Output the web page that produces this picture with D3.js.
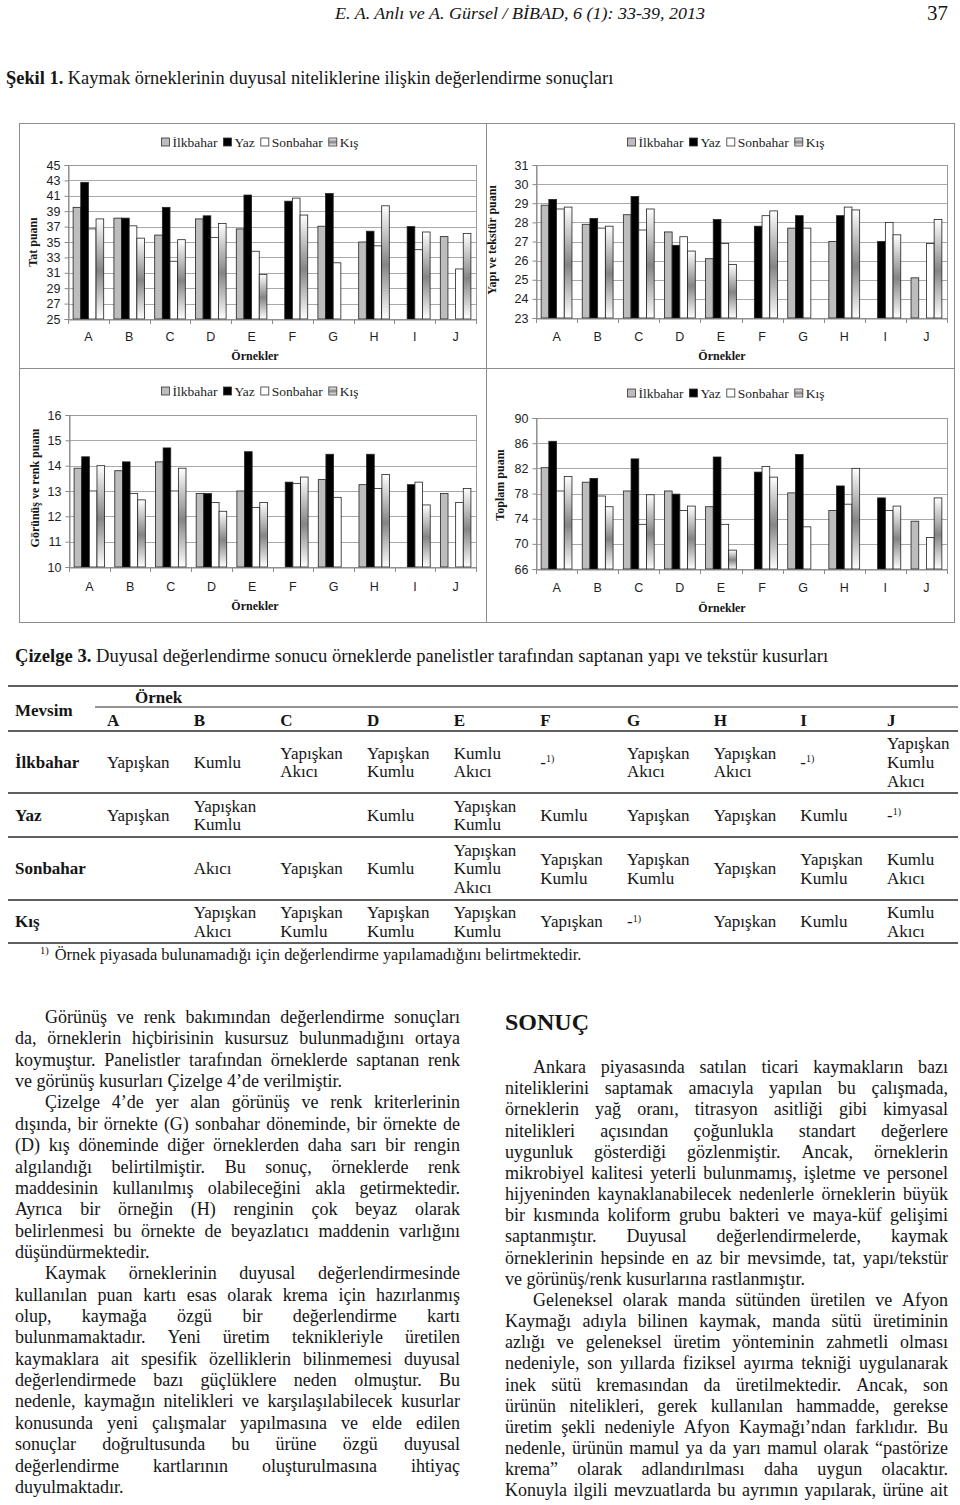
<!DOCTYPE html>
<html lang="tr">
<head>
<meta charset="utf-8">
<script src="https://cdn.jsdelivr.net/npm/d3@7"></script>
<style>
  body { margin: 0; background: #fff; }
  svg { display: block; }
</style>
</head>
<body>
<div id="page"></div>
<script>
// ---- data ----
var samples = ["A", "B", "C", "D", "E", "F", "G", "H", "I", "J"];
var seasons = ["İlkbahar", "Yaz", "Sonbahar", "Kış"];

// one row per sample: [İlkbahar, Yaz, Sonbahar, Kış], null = sample not found
var tatPuani = [
  [39.5, 42.75, 36.7, 38.0],
  [38.1, 38.1, 37.1, 35.5],
  [35.9, 39.5, 32.5, 35.3],
  [38.0, 38.4, 35.6, 37.4],
  [36.7, 41.1, 33.8, 30.8],
  [null, 40.3, 40.7, 38.5],
  [37.05, 41.3, 32.3, null],
  [35.0, 36.4, 34.5, 39.7],
  [null, 37.0, 34.0, 36.3],
  [35.7, null, 31.5, 36.1]
];
var yapiPuani = [
  [28.9, 29.2, 28.7, 28.8],
  [27.9, 28.2, 27.7, 27.8],
  [28.4, 29.35, 27.6, 28.7],
  [27.5, 26.8, 27.25, 26.5],
  [26.1, 28.15, 26.9, 25.8],
  [null, 27.8, 28.35, 28.6],
  [27.7, 28.35, 27.7, null],
  [27.0, 28.35, 28.8, 28.65],
  [null, 27.0, 28.0, 27.35],
  [25.1, null, 26.9, 28.15]
];
var gorunusPuani = [
  [13.9, 14.35, 13.0, 14.0],
  [13.8, 14.15, 12.9, 12.65],
  [14.15, 14.7, 13.0, 13.9],
  [12.9, 12.9, 12.55, 12.2],
  [13.0, 14.55, 12.35, 12.55],
  [null, 13.35, 13.3, 13.55],
  [13.45, 14.45, 12.75, null],
  [13.25, 14.45, 13.1, 13.65],
  [null, 13.25, 13.35, 12.45],
  [12.9, null, 12.55, 13.1]
];
var toplamPuan = [
  [82.1, 86.3, 78.4, 80.7],
  [79.8, 80.4, 77.6, 75.9],
  [78.4, 83.5, 73.1, 77.8],
  [78.4, 77.9, 75.3, 76.0],
  [75.9, 83.8, 73.1, 69.0],
  [null, 81.4, 82.3, 80.6],
  [78.1, 84.2, 72.7, null],
  [75.3, 79.2, 76.3, 82.0],
  [null, 77.3, 75.3, 76.0],
  [73.6, null, 71.0, 77.3]
];

var tatTicks = [25, 27, 29, 31, 33, 35, 37, 39, 41, 43, 45];
var yapiTicks = [23, 24, 25, 26, 27, 28, 29, 30, 31];
var gorunusTicks = [10, 11, 12, 13, 14, 15, 16];
var toplamTicks = [66, 70, 74, 78, 82, 86, 90];

// Çizelge 3 ("-" = örnek bulunamadı)
var tableSeasons = ["İlkbahar", "Yaz", "Sonbahar", "Kış"];
var kusurIlkbahar = ["Yapışkan", "Kumlu", "Yapışkan\nAkıcı", "Yapışkan\nKumlu", "Kumlu\nAkıcı", "-", "Yapışkan\nAkıcı", "Yapışkan\nAkıcı", "-", "Yapışkan\nKumlu\nAkıcı"];
var kusurYaz = ["Yapışkan", "Yapışkan\nKumlu", "", "Kumlu", "Yapışkan\nKumlu", "Kumlu", "Yapışkan", "Yapışkan", "Kumlu", "-"];
var kusurSonbahar = ["", "Akıcı", "Yapışkan", "Kumlu", "Yapışkan\nKumlu\nAkıcı", "Yapışkan\nKumlu", "Yapışkan\nKumlu", "Yapışkan", "Yapışkan\nKumlu", "Kumlu\nAkıcı"];
var kusurKis = ["", "Yapışkan\nAkıcı", "Yapışkan\nKumlu", "Yapışkan\nKumlu", "Yapışkan\nKumlu", "Yapışkan", "-", "Yapışkan", "Kumlu", "Kumlu\nAkıcı"];

var leftParagraphs = [
  ["Görünüş ve renk bakımından değerlendirme sonuçları",
   "da, örneklerin hiçbirisinin kusursuz bulunmadığını ortaya",
   "koymuştur. Panelistler tarafından örneklerde saptanan renk",
   "ve görünüş kusurları Çizelge 4’de verilmiştir."],
  ["Çizelge 4’de yer alan görünüş ve renk kriterlerinin",
   "dışında, bir örnekte (G) sonbahar döneminde, bir örnekte de",
   "(D) kış döneminde diğer örneklerden daha sarı bir rengin",
   "algılandığı belirtilmiştir. Bu sonuç, örneklerde renk",
   "maddesinin kullanılmış olabileceğini akla getirmektedir.",
   "Ayrıca bir örneğin (H) renginin çok beyaz olarak",
   "belirlenmesi bu örnekte de beyazlatıcı maddenin varlığını",
   "düşündürmektedir."],
  ["Kaymak örneklerinin duyusal değerlendirmesinde",
   "kullanılan puan kartı esas olarak krema için hazırlanmış",
   "olup, kaymağa özgü bir değerlendirme kartı",
   "bulunmamaktadır. Yeni üretim teknikleriyle üretilen",
   "kaymaklara ait spesifik özelliklerin bilinmemesi duyusal",
   "değerlendirmede bazı güçlüklere neden olmuştur. Bu",
   "nedenle, kaymağın nitelikleri ve karşılaşılabilecek kusurlar",
   "konusunda yeni çalışmalar yapılmasına ve elde edilen",
   "sonuçlar doğrultusunda bu ürüne özgü duyusal",
   "değerlendirme kartlarının oluşturulmasına ihtiyaç",
   "duyulmaktadır."]
];
var rightParagraphs = [
  ["Ankara piyasasında satılan ticari kaymakların bazı",
   "niteliklerini saptamak amacıyla yapılan bu çalışmada,",
   "örneklerin yağ oranı, titrasyon asitliği gibi kimyasal",
   "nitelikleri açısından çoğunlukla standart değerlere",
   "uygunluk gösterdiği gözlenmiştir. Ancak, örneklerin",
   "mikrobiyel kalitesi yeterli bulunmamış, işletme ve personel",
   "hijyeninden kaynaklanabilecek nedenlerle örneklerin büyük",
   "bir kısmında koliform grubu bakteri ve maya-küf gelişimi",
   "saptanmıştır. Duyusal değerlendirmelerde, kaymak",
   "örneklerinin hepsinde en az bir mevsimde, tat, yapı/tekstür",
   "ve görünüş/renk kusurlarına rastlanmıştır."],
  ["Geleneksel olarak manda sütünden üretilen ve Afyon",
   "Kaymağı adıyla bilinen kaymak, manda sütü üretiminin",
   "azlığı ve geleneksel üretim yönteminin zahmetli olması",
   "nedeniyle, son yıllarda fiziksel ayırma tekniği uygulanarak",
   "inek sütü kremasından da üretilmektedir. Ancak, son",
   "ürünün nitelikleri, gerek kullanılan hammadde, gerekse",
   "üretim şekli nedeniyle Afyon Kaymağı’ndan farklıdır. Bu",
   "nedenle, ürünün mamul ya da yarı mamul olarak “pastörize",
   "krema” olarak adlandırılması daha uygun olacaktır.",
   "Konuyla ilgili mevzuatlarda bu ayrımın yapılarak, ürüne ait"]
];

// ---- page ----
var serif = "'Liberation Serif', 'Times New Roman', serif";
var sans = "'Liberation Sans', Arial, sans-serif";

var svg = d3.select("#page").append("svg")
    .attr("width", 960)
    .attr("height", 1505)
    .style("font-family", serif)
    .attr("fill", "#151515");

var grad = svg.append("defs").append("linearGradient")
    .attr("id", "kisGrad")
    .attr("x1", 0).attr("y1", 0).attr("x2", 0).attr("y2", 1);
grad.append("stop").attr("offset", "0%").attr("stop-color", "#ffffff");
grad.append("stop").attr("offset", "52%").attr("stop-color", "#858585");
grad.append("stop").attr("offset", "100%").attr("stop-color", "#ffffff");

var seasonFill = d3.scaleOrdinal()
    .domain(seasons)
    .range(["#bdbdbd", "#000000", "#ffffff", "url(#kisGrad)"]);

// running header
svg.append("text")
    .attr("x", 335).attr("y", 19)
    .style("font-style", "italic").style("font-size", "17px")
    .attr("textLength", 370).attr("lengthAdjust", "spacingAndGlyphs")
    .text("E. A. Anlı ve A. Gürsel  / BİBAD, 6 (1): 33-39, 2013");
svg.append("text")
    .attr("x", 927).attr("y", 20)
    .style("font-size", "21px")
    .text("37");

// figure caption
var cap = svg.append("text").attr("x", 6).attr("y", 84).style("font-size", "18.4px");
cap.append("tspan").style("font-weight", "bold").text("Şekil 1.");
cap.append("tspan").text(" Kaymak örneklerinin duyusal niteliklerine ilişkin değerlendirme sonuçları");

// figure frame
var frame = svg.append("g").attr("stroke", "#8c8c8c").attr("fill", "none");
frame.append("rect").attr("x", 19.5).attr("y", 123.5).attr("width", 935).attr("height", 499);
frame.append("line").attr("x1", 486.5).attr("x2", 486.5).attr("y1", 123.5).attr("y2", 622.5);
frame.append("line").attr("x1", 19.5).attr("x2", 954.5).attr("y1", 368.5).attr("y2", 368.5);

function drawChart(cfg) {
    var g = svg.append("g");

    var x = d3.scaleBand().domain(samples).range([cfg.x0, cfg.x1])
        .paddingInner(0.25).paddingOuter(0.125);
    var xs = d3.scaleBand().domain(seasons).range([0, x.bandwidth()]);
    var y = d3.scaleLinear().domain(d3.extent(cfg.ticks)).range([cfg.yBot, cfg.yTop]);

    // gridlines
    g.append("g").selectAll("line")
        .data(cfg.ticks)
        .join("line")
        .attr("x1", cfg.x0).attr("x2", cfg.x1)
        .attr("y1", function (d) { return Math.round(y(d)) + 0.5; })
        .attr("y2", function (d) { return Math.round(y(d)) + 0.5; })
        .attr("stroke", "#a9a9a9");

    g.append("rect")
        .attr("x", cfg.x0 + 0.5).attr("y", Math.round(cfg.yTop) + 0.5)
        .attr("width", cfg.x1 - cfg.x0).attr("height", Math.round(cfg.yBot) - Math.round(cfg.yTop))
        .attr("fill", "none").attr("stroke", "#9a9a9a");

    // bars
    var bars = [];
    cfg.values.forEach(function (row, i) {
        row.forEach(function (v, j) {
            if (v !== null) bars.push({ sample: samples[i], season: seasons[j], value: v });
        });
    });
    g.append("g").selectAll("rect")
        .data(bars)
        .join("rect")
        .attr("x", function (d) { return x(d.sample) + xs(d.season); })
        .attr("width", xs.bandwidth())
        .attr("y", function (d) { return y(d.value); })
        .attr("height", function (d) { return y(y.domain()[0]) - y(d.value); })
        .attr("fill", function (d) { return seasonFill(d.season); })
        .attr("stroke", "#222")
        .attr("stroke-width", 0.8);

    // y axis
    var ya = g.append("g")
        .attr("transform", "translate(" + (cfg.x0 + 0.5) + ",0)")
        .call(d3.axisLeft(y).tickValues(cfg.ticks).tickSize(4).tickPadding(4).tickFormat(d3.format("d")));
    ya.select(".domain").attr("stroke", "#8a8a8a");
    ya.selectAll(".tick line").attr("stroke", "#8a8a8a");
    ya.selectAll("text").style("font-family", sans).style("font-size", "12.5px").attr("fill", "#1e1e1e");

    // x axis
    var xa = g.append("g")
        .attr("transform", "translate(0," + (Math.round(cfg.yBot) + 0.5) + ")")
        .call(d3.axisBottom(x).tickSize(0).tickPadding(cfg.labelGap));
    xa.select(".domain").attr("stroke", "#8a8a8a");
    xa.selectAll("text").style("font-family", sans).style("font-size", "12.5px").attr("fill", "#1e1e1e");

    var bounds = samples.map(function (d) { return x(d) - (x.step() - x.bandwidth()) / 2; });
    bounds.push(cfg.x1);
    g.append("g").selectAll("line")
        .data(bounds)
        .join("line")
        .attr("x1", function (d) { return Math.round(d) + 0.5; })
        .attr("x2", function (d) { return Math.round(d) + 0.5; })
        .attr("y1", Math.round(cfg.yBot)).attr("y2", Math.round(cfg.yBot) + 5)
        .attr("stroke", "#8a8a8a");

    // axis titles
    g.append("text")
        .attr("transform", "translate(" + cfg.titleX + "," + cfg.titleY + ") rotate(-90)")
        .attr("text-anchor", "middle").attr("dy", "0.35em")
        .style("font-weight", "bold").style("font-size", "12px")
        .text(cfg.title);
    g.append("text")
        .attr("x", cfg.ornX).attr("y", cfg.ornY).attr("dy", "0.35em")
        .attr("text-anchor", "middle")
        .style("font-weight", "bold").style("font-size", "12px")
        .text("Örnekler");

    // legend
    var lg = g.append("g");
    var items = lg.selectAll("g").data(seasons).join("g");
    items.append("rect")
        .attr("width", 8).attr("height", 8).attr("y", -4)
        .attr("fill", function (d) { return seasonFill(d); })
        .attr("stroke", "#333").attr("stroke-width", 0.8);
    items.append("text")
        .attr("x", 11).attr("dy", "0.35em")
        .style("font-size", "13.5px").attr("fill", "#222")
        .text(function (d) { return d; });
    var pos = 0;
    items.each(function () {
        var w = 11 + d3.select(this).select("text").node().getComputedTextLength();
        d3.select(this).attr("transform", "translate(" + pos + ",0)");
        pos += w + 6;
    });
    pos -= 6;
    lg.attr("transform", "translate(" + (cfg.legendCx - pos / 2) + "," + cfg.legendY + ")");
}

drawChart({ values: tatPuani, ticks: tatTicks, x0: 68, x1: 476, yTop: 165, yBot: 319,
    labelGap: 13, title: "Tat puanı", titleX: 33, titleY: 242,
    ornX: 255, ornY: 356, legendCx: 260, legendY: 142 });
drawChart({ values: yapiPuani, ticks: yapiTicks, x0: 536, x1: 947, yTop: 165, yBot: 318,
    labelGap: 14, title: "Yapı ve tekstür puanı", titleX: 492, titleY: 240,
    ornX: 722, ornY: 356, legendCx: 726, legendY: 142 });
drawChart({ values: gorunusPuani, ticks: gorunusTicks, x0: 69, x1: 476, yTop: 415, yBot: 567,
    labelGap: 15, title: "Görünüş ve renk puanı", titleX: 35, titleY: 488,
    ornX: 255, ornY: 606, legendCx: 260, legendY: 391 });
drawChart({ values: toplamPuan, ticks: toplamTicks, x0: 536, x1: 947, yTop: 418, yBot: 569,
    labelGap: 14, title: "Toplam puanı", titleX: 500, titleY: 485,
    ornX: 722, ornY: 608, legendCx: 726, legendY: 393 });

// ---- Çizelge 3 ----
var t3 = svg.append("text").attr("x", 15).attr("y", 662).style("font-size", "18.6px");
t3.append("tspan").style("font-weight", "bold").text("Çizelge 3.");
t3.append("tspan").text(" Duyusal değerlendirme sonucu örneklerde panelistler tarafından saptanan yapı ve tekstür kusurları");

var tbl = svg.append("g").style("font-size", "17px");
var col = d3.scaleBand().domain(samples).range([107, 973.7]);
var rowTop = [731, 793, 837, 900];
var rowBot = [793, 837, 900, 943];
var rowCells = [kusurIlkbahar, kusurYaz, kusurSonbahar, kusurKis];

var rules = tbl.append("g").attr("stroke", "#2a2a2a").attr("stroke-width", 1.4);
[686].concat(rowTop, [943]).forEach(function (yy) {
    rules.append("line").attr("x1", 8).attr("x2", 958).attr("y1", yy).attr("y2", yy);
});
rules.append("line").attr("x1", 95).attr("x2", 958).attr("y1", 707).attr("y2", 707).attr("stroke-width", 1);

tbl.append("text").attr("x", 15).attr("y", 710).attr("dy", "0.35em").style("font-weight", "bold").text("Mevsim");
tbl.append("text").attr("x", 135).attr("y", 697).attr("dy", "0.35em").style("font-weight", "bold").text("Örnek");
tbl.append("g").selectAll("text")
    .data(samples)
    .join("text")
    .attr("x", function (d) { return col(d); })
    .attr("y", 720).attr("dy", "0.35em")
    .style("font-weight", "bold")
    .text(function (d) { return d; });

tableSeasons.forEach(function (s, r) {
    var cy = (rowTop[r] + rowBot[r]) / 2;
    tbl.append("text").attr("x", 15).attr("y", cy).attr("dy", "0.35em")
        .style("font-weight", "bold").text(s);
    rowCells[r].forEach(function (cell, c) {
        if (cell === "") return;
        var cx = col(samples[c]);
        if (cell === "-") {
            var t = tbl.append("text").attr("x", cx).attr("y", cy).attr("dy", "0.35em");
            t.append("tspan").text("-");
            t.append("tspan").attr("dy", "-0.55em").style("font-size", "10px").text("1)");
            return;
        }
        var lines = cell.split("\n");
        lines.forEach(function (ln, k) {
            tbl.append("text")
                .attr("x", cx)
                .attr("y", cy + (k - (lines.length - 1) / 2) * 18.6)
                .attr("dy", "0.35em")
                .text(ln);
        });
    });
});

var fn = svg.append("text").attr("x", 40).attr("y", 960).style("font-size", "16.4px");
fn.append("tspan").attr("dy", "-6").style("font-size", "10.5px").text("1)");
fn.append("tspan").attr("dy", "6").attr("dx", "6").text("Örnek piyasada bulunamadığı için değerlendirme yapılamadığını belirtmektedir.");

// ---- body text, justified like the page ----
function textLine(g, str, x0, x1, yb, justify) {
    if (!justify) {
        g.append("text").attr("x", x0).attr("y", yb).text(str);
        return;
    }
    var words = str.split(" ");
    var nodes = words.map(function (w) { return g.append("text").attr("y", yb).text(w); });
    var widths = nodes.map(function (n) { return n.node().getComputedTextLength(); });
    var total = d3.sum(widths);
    var gap = (x1 - x0 - total) / (words.length - 1);
    var k = 1;
    if (gap < 3.5) {
        gap = 3.5;
        k = (x1 - x0 - gap * (words.length - 1)) / total;
    }
    var xx = x0;
    nodes.forEach(function (n, i) {
        n.attr("x", xx);
        if (k < 1) n.attr("textLength", widths[i] * k).attr("lengthAdjust", "spacingAndGlyphs");
        xx += widths[i] * k + gap;
    });
}

function column(paragraphs, x0, x1, firstY, lineH, indent, openEnd) {
    var g = svg.append("g").style("font-size", "18px");
    var n = 0;
    paragraphs.forEach(function (para, p) {
        para.forEach(function (ln, i) {
            var last = i === para.length - 1 && !(openEnd && p === paragraphs.length - 1);
            textLine(g, ln, x0 + (i === 0 ? indent : 0), x1, firstY + n * lineH + 6, !last);
            n++;
        });
    });
}

column(leftParagraphs, 15, 460, 1017, 21.36, 30, false);

svg.append("text").attr("x", 505).attr("y", 1030)
    .style("font-weight", "bold").style("font-size", "24px")
    .text("SONUÇ");
column(rightParagraphs, 505, 948, 1067, 21.17, 28, true);
</script>
</body>
</html>
